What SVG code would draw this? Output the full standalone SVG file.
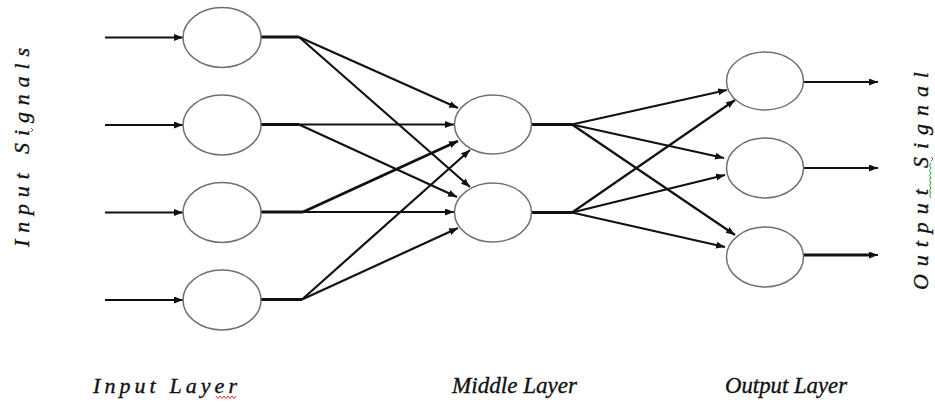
<svg xmlns="http://www.w3.org/2000/svg" width="935" height="402" viewBox="0 0 935 402">
  <style>
    .node { fill: #ffffff; stroke: #707070; stroke-width: 1.5; }
    .edge { fill: none; stroke: #111111; stroke-width: 2.2; marker-end: url(#arrow); }
    .stub { fill: none; stroke: #111111; stroke-width: 2.8; }
    .label { font-family: "Liberation Serif", "Times New Roman", serif; font-style: italic; font-size: 22px; fill: #111111; stroke: #111111; stroke-width: 0.35; }
    .caption { font-size: 24px; }
    .squig-red { fill: none; stroke: #e03030; stroke-width: 1; }
    .squig-green { fill: none; stroke: #30a030; stroke-width: 1; }
  </style>
  <defs>
    <marker id="arrow" markerUnits="userSpaceOnUse" markerWidth="10" markerHeight="8" refX="9" refY="3.5" orient="auto">
      <path d="M0,0 L9,3.5 L0,7 z" fill="#111111"/>
    </marker>
  </defs>
  <rect width="935" height="402" fill="#ffffff"/>

  <!-- connectors -->
  <g id="connectors">
    <!-- incoming signals -->
    <path class="edge" d="M105,37.5 L183,37.5"/>
    <path class="edge" d="M105,125 L183,125"/>
    <path class="edge" d="M105,212.5 L183,212.5"/>
    <path class="edge" d="M105,300 L183,300"/>
    <!-- input node stubs -->
    <path class="stub" d="M261,37 L299,37"/>
    <path class="stub" d="M261,124.5 L299,124.5"/>
    <path class="stub" d="M261,212 L303,212"/>
    <path class="stub" d="M261,299.5 L302,299.5"/>
    <!-- input to middle -->
    <path class="edge" d="M299,37 L458,108"/>
    <path class="edge" d="M299,37 L470,187"/>
    <path class="edge" d="M299,124.5 L454,124.5"/>
    <path class="edge" d="M299,124.5 L457,197"/>
    <path class="edge" d="M303,212 L458,141" style="stroke-width:2.8"/>
    <path class="edge" d="M303,212 L454,212"/>
    <path class="edge" d="M302,299.5 L470,150"/>
    <path class="edge" d="M302,299.5 L458,228"/>
    <!-- middle node stubs -->
    <path class="stub" d="M531,124.5 L572,124.5"/>
    <path class="stub" d="M531,212.5 L572,212.5"/>
    <!-- middle to output -->
    <path class="edge" d="M572,124.5 L727,90"/>
    <path class="edge" d="M572,124.5 L724,158"/>
    <path class="edge" d="M572,124.5 L735,235"/>
    <path class="edge" d="M572,212.5 L735,100"/>
    <path class="edge" d="M572,212.5 L725,175"/>
    <path class="edge" d="M572,212.5 L725,247"/>
    <!-- outgoing signals -->
    <path class="edge" d="M803,82 L878,82"/>
    <path class="edge" d="M803,168 L878,168"/>
    <path class="stub" d="M803,255 L870,255"/>
    <path class="edge" d="M803,255 L878,255"/>
  </g>

  <!-- input layer -->
  <g id="in1"><ellipse class="node" cx="222" cy="37.5" rx="39" ry="30"/></g>
  <g id="in2"><ellipse class="node" cx="222" cy="125" rx="39" ry="30"/></g>
  <g id="in3"><ellipse class="node" cx="222" cy="212.5" rx="39" ry="30"/></g>
  <g id="in4"><ellipse class="node" cx="222" cy="300" rx="39" ry="30"/></g>

  <!-- middle layer -->
  <g id="mid1"><ellipse class="node" cx="493" cy="124.5" rx="38.5" ry="29.5"/></g>
  <g id="mid2"><ellipse class="node" cx="493" cy="212.5" rx="38.5" ry="29.5"/></g>

  <!-- output layer -->
  <g id="out1"><ellipse class="node" cx="765" cy="81" rx="38.5" ry="29"/></g>
  <g id="out2"><ellipse class="node" cx="765" cy="168" rx="38.5" ry="30"/></g>
  <g id="out3"><ellipse class="node" cx="765" cy="257" rx="38.5" ry="30"/></g>

  <!-- side captions -->
  <g id="input-signals">
    <text class="label" transform="translate(29,247) rotate(-90)" textLength="199" lengthAdjust="spacing">Input Signals</text>
    <path class="squig-red" d="M31,128 l2,2 l-2,2"/>
  </g>
  <g id="output-signal">
    <text class="label" transform="translate(928,290) rotate(-90)" textLength="218" lengthAdjust="spacing">Output Signal</text>
    <path class="squig-green" d="M931,198 l-1.5,-2.5 l1.5,-2.5 l-1.5,-2.5 l1.5,-2.5 l-1.5,-2.5 l1.5,-2.5 l-1.5,-2.5 l1.5,-2.5 l-1.5,-2.5 l1.5,-2.5 l-1.5,-2.5 l1.5,-2.5 l-1.5,-2.5 l1.5,-2.5"/>
    <path class="squig-red" d="M931,161 l2,-2 l-2,-2"/>
  </g>

  <!-- layer captions -->
  <g id="layer-captions">
    <text class="label" x="93" y="393" textLength="144" lengthAdjust="spacing">Input Layer</text>
    <path class="squig-red" d="M216,396 l2,2.5 l2,-2.5 l2,2.5 l2,-2.5 l2,2.5 l2,-2.5 l2,2.5 l2,-2.5 l2,2.5 l2,-2.5"/>
    <text class="label caption" x="452" y="393" textLength="125" lengthAdjust="spacingAndGlyphs">Middle Layer</text>
    <text class="label caption" x="725" y="393" textLength="122" lengthAdjust="spacingAndGlyphs">Output Layer</text>
  </g>
</svg>
